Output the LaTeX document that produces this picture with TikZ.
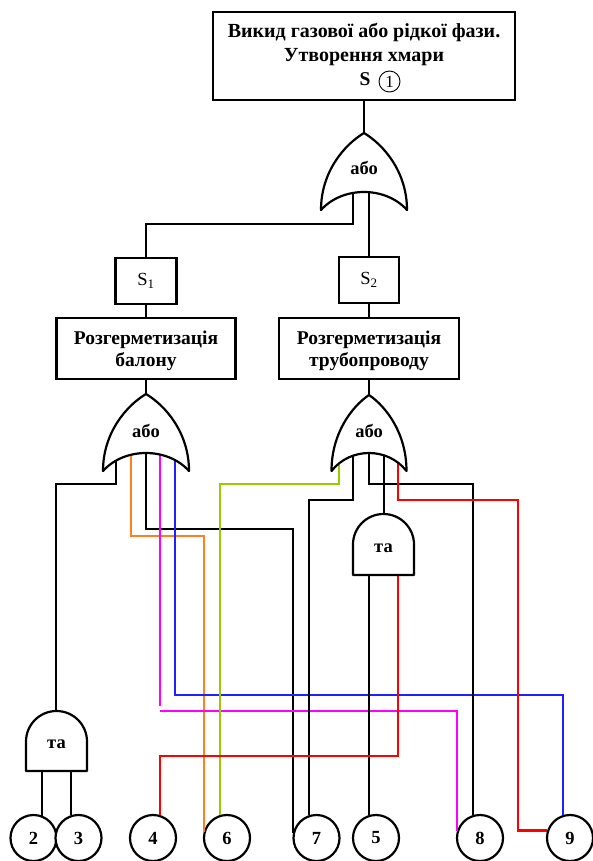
\documentclass[tikz,border=0pt]{standalone}
\usepackage{fontspec}
\setmainfont{Liberation Serif}
\definecolor{wOrange}{RGB}{255,128,32}
\definecolor{wGreen}{RGB}{153,204,0}
\definecolor{wMagenta}{RGB}{255,0,255}
\definecolor{wBlue}{RGB}{32,32,255}
\definecolor{wRed}{RGB}{255,0,0}
\newcommand{\myorgate}[5]{% cx top bot peak halfw
  \path[gateshape] (#1,#2)
    .. controls ({#1-0.45*#5},{#2+0.15*(#3-#2)}) and ({#1-#5},{#2+0.5*(#3-#2)}) .. ({#1-#5},#3)
    .. controls ({#1-0.5*#5},{(4*#4-#3)/3}) and ({#1+0.5*#5},{(4*#4-#3)/3}) .. ({#1+#5},#3)
    .. controls ({#1+#5},{#2+0.5*(#3-#2)}) and ({#1+0.45*#5},{#2+0.15*(#3-#2)}) .. (#1,#2) -- cycle;}
\newcommand{\myandgate}[4]{% cx top bot r
  \path[gateshape] ({#1-#4},#3) -- ({#1-#4},{#2+#4})
    .. controls ({#1-#4},{#2+0.448*#4}) and ({#1-0.552*#4},#2) .. (#1,#2)
    .. controls ({#1+0.552*#4},#2) and ({#1+#4},{#2+0.448*#4}) .. ({#1+#4},{#2+#4})
    -- ({#1+#4},#3) -- cycle;}
\begin{document}
\begin{tikzpicture}[x=1pt,y=-1pt,
  wire/.style={line width=2.2pt},
  box/.style={draw,line width=2.2pt,fill=white,inner sep=0pt},
  lbl/.style={font=\bfseries\fontsize{19.5}{22}\selectfont,inner sep=0pt},
  glbl/.style={font=\bfseries\fontsize{18.5}{22}\selectfont,inner sep=0pt},
  slbl/.style={font=\fontsize{18.5}{22}\selectfont,inner sep=0pt},
  ev/.style={draw,circle,line width=2.2pt,minimum size=46pt,inner sep=0pt,fill=white,font=\bfseries\fontsize{18.5}{22}\selectfont},
  gateshape/.style={draw,line width=2.2pt,fill=white,line join=round}
]
\useasboundingbox (0,0) rectangle (592,861);

% boxes
\node[box,minimum width=302pt,minimum height=88pt] (T) at (364,56) {};
\node[lbl,font=\bfseries\fontsize{20}{22}\selectfont,anchor=base] (t1) at (364,38) {Викид газової або рідкої фази.};
\node[lbl,font=\bfseries\fontsize{20}{22}\selectfont,anchor=base] (t2) at (364,62) {Утворення хмари};
\node[lbl,anchor=base] (tS) at (365,86) {S};
\node[draw,circle,line width=0.9pt,minimum size=21pt,inner sep=0pt,font=\fontsize{17}{20}\selectfont] (tc) at (389.5,81.5) {1};

\node[box,minimum width=61pt,minimum height=46pt,slbl] (S1) at (146,281) {S\textsubscript{1}};
\node[box,minimum width=60pt,minimum height=46pt,slbl] (S2) at (369,280) {S\textsubscript{2}};

\node[box,minimum width=179pt,minimum height=61pt] (LB) at (146,348.5) {};
\node[lbl,anchor=base] (lb1) at (146,344) {Розгерметизація};
\node[lbl,anchor=base] (lb2) at (146,366) {балону};
\node[box,minimum width=180pt,minimum height=61pt] (RB) at (369,348.5) {};
\node[lbl,anchor=base] (rb1) at (369,344) {Розгерметизація};
\node[lbl,anchor=base] (rb2) at (369,366) {трубопроводу};

% circles
\node[ev] (c2) at (33.5,838) {2};
\node[ev] (c3) at (78.5,838) {3};
\node[ev] (c4) at (153,838) {4};
\node[ev] (c6) at (227,838) {6};
\node[ev] (c7) at (316.5,838) {7};
\node[ev] (c5) at (376,838) {5};
\node[ev] (c8) at (480,838) {8};
\node[ev] (c9) at (570,838) {9};

% gate coordinates
\coordinate (G0tip) at (364,133);
\coordinate (G0a) at (353,188);
\coordinate (G0b) at (369,188);
\coordinate (GLtip) at (146,394);
\coordinate (GLa) at (116,450);
\coordinate (GLb) at (131,450);
\coordinate (GLc) at (146,450);
\coordinate (GLd) at (160,450);
\coordinate (GLe) at (175,450);
\coordinate (GRtip) at (369,395);
\coordinate (GRa) at (339,452);
\coordinate (GRb) at (353,450);
\coordinate (GRc) at (369,450);
\coordinate (GRd) at (384,450);
\coordinate (GRe) at (398,452);
\coordinate (ARtop) at (384,514);
\coordinate (ARa) at (369,560);
\coordinate (ARb) at (398,560);
\coordinate (ALtop) at (56,711);
\coordinate (ALa) at (42,760);
\coordinate (ALb) at (71,760);

% wires
\draw[wire] (T.south) -- (G0tip);
\draw[wire] (G0a) -- (353,224) -| (S1.north);
\draw[wire] (G0b) -- (S2.north);
\draw[wire] (S1.south) -- (LB.north);
\draw[wire] (S2.south) -- (RB.north);
\draw[wire] (LB.south) -- (GLtip);
\draw[wire] (RB.south) -- (GRtip);

\draw[wire] (GLa) -- (116,484) -| (ALtop);
\draw[wire,wOrange] (GLb) -- (131,536) -| (c6.165);
\draw[wire] (GLc) -- (146,529) -| (c7.168);
\draw[wire,wMagenta] (GLd) -- (160,706) (160,711) -| (c8.163);
\draw[wire,wBlue] (GLe) -- (175,695) -| (c9.107);

\draw[wire,wGreen] (GRa) -- (339,484) -| (c6.107);
\draw[wire] (GRb) -- (353,500) -| (c7.109);
\draw[wire] (GRc) -- (369,484) -| (c8.107);
\draw[wire] (GRd) -- (ARtop);
\draw[wire,wRed] (GRe) -- (398,500) -- (518,500) |- (c9.162);

\draw[wire] (ARa) |- (c5.107);
\draw[wire,wRed] (ARb) -- (398,756) -| (c4.73);
\draw[wire] (ALa) |- (c2.68);
\draw[wire] (ALb) |- (c3.109);

% gates
\myorgate{364}{133}{210}{192}{43}
\node[glbl,anchor=base] (g0) at (364,175) {або};
\myorgate{146}{394}{471}{453}{43}
\node[glbl,anchor=base] (gL) at (146,437) {або};
\myorgate{369}{395}{471}{453}{37.5}
\node[glbl,anchor=base] (gR) at (369,437) {або};
\myandgate{383.5}{514}{575}{30.5}
\node[glbl,anchor=base] (aR) at (383.5,552) {та};
\myandgate{56.5}{711}{771}{30.5}
\node[glbl,anchor=base] (aL) at (56.5,748) {та};
\end{tikzpicture}
\end{document}
